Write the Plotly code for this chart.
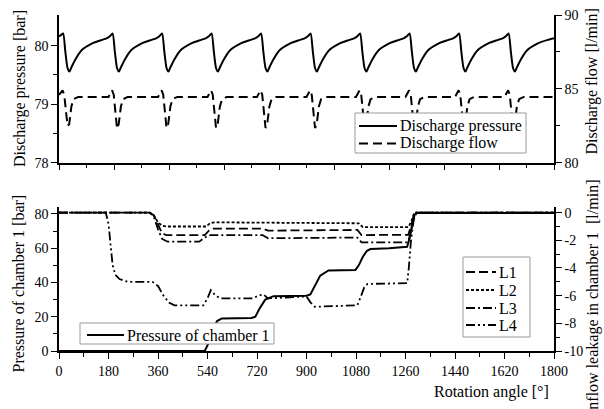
import plotly.graph_objects as go

# ---------------- top panel data ----------------
press_x = [0, 7,
           15, 23, 31, 38, 45, 60, 84, 121, 157, 175, 185,
           195, 203, 211, 218, 225, 240, 264, 301, 337, 355, 365,
           375, 383, 391, 398, 405, 420, 444, 481, 517, 535, 545,
           555, 563, 571, 578, 585, 600, 624, 661, 697, 715, 725,
           735, 743, 751, 758, 765, 780, 804, 841, 877, 895, 905,
           915, 923, 931, 938, 945, 960, 984, 1021, 1057, 1075, 1085,
           1095, 1103, 1111, 1118, 1125, 1140, 1164, 1201, 1237, 1255, 1265,
           1275, 1283, 1291, 1298, 1305, 1320, 1344, 1381, 1417, 1435, 1445,
           1455, 1463, 1471, 1478, 1485, 1500, 1524, 1561, 1597, 1615, 1625,
           1635, 1643, 1651, 1658, 1665, 1680, 1704, 1741, 1777, 1800]
press_y = [80.16, 80.18,
           80.21, 79.90, 79.62, 79.56, 79.63, 79.77, 79.93, 80.04, 80.10, 80.13, 80.16,
           80.21, 79.90, 79.62, 79.56, 79.63, 79.77, 79.93, 80.04, 80.10, 80.13, 80.16,
           80.21, 79.90, 79.62, 79.56, 79.63, 79.77, 79.93, 80.04, 80.10, 80.13, 80.16,
           80.21, 79.90, 79.62, 79.56, 79.63, 79.77, 79.93, 80.04, 80.10, 80.13, 80.16,
           80.21, 79.90, 79.62, 79.56, 79.63, 79.77, 79.93, 80.04, 80.10, 80.13, 80.16,
           80.21, 79.90, 79.62, 79.56, 79.63, 79.77, 79.93, 80.04, 80.10, 80.13, 80.16,
           80.21, 79.90, 79.62, 79.56, 79.63, 79.77, 79.93, 80.04, 80.10, 80.13, 80.16,
           80.21, 79.90, 79.62, 79.56, 79.63, 79.77, 79.93, 80.04, 80.10, 80.13, 80.16,
           80.21, 79.90, 79.62, 79.56, 79.63, 79.77, 79.93, 80.04, 80.10, 80.13, 80.16,
           80.21, 79.90, 79.62, 79.56, 79.63, 79.77, 79.93, 80.04, 80.10, 80.13]

flow_x = [0, 13, 19, 25, 31, 37, 45, 53, 70, 180,
          193, 199, 205, 211, 217, 225, 233, 250, 360,
          373, 379, 385, 391, 397, 405, 413, 430, 540,
          553, 559, 565, 571, 577, 585, 593, 610, 720,
          733, 739, 745, 751, 757, 765, 773, 790, 900,
          913, 919, 925, 931, 937, 945, 953, 970, 1080,
          1093, 1099, 1105, 1111, 1117, 1125, 1133, 1150, 1260,
          1273, 1279, 1285, 1291, 1297, 1305, 1313, 1330, 1440,
          1453, 1459, 1465, 1471, 1477, 1485, 1493, 1510, 1620,
          1633, 1639, 1645, 1651, 1657, 1665, 1673, 1690, 1800]
flow_y = [84.6, 84.9, 84.6, 83.3, 82.5, 82.6, 83.8, 84.3, 84.45, 84.45,
          84.9, 84.6, 83.3, 82.3, 82.6, 83.8, 84.3, 84.45, 84.45,
          84.9, 84.6, 83.3, 82.35, 82.6, 83.8, 84.3, 84.45, 84.45,
          84.9, 84.6, 83.3, 82.35, 82.6, 83.8, 84.3, 84.45, 84.45,
          84.9, 84.6, 83.3, 82.35, 82.6, 83.8, 84.3, 84.45, 84.45,
          84.9, 84.6, 83.3, 82.35, 82.6, 83.8, 84.3, 84.45, 84.45,
          84.9, 84.6, 83.3, 82.35, 82.6, 83.8, 84.3, 84.45, 84.45,
          84.9, 84.6, 83.3, 82.35, 82.6, 83.8, 84.3, 84.45, 84.45,
          84.9, 84.6, 83.3, 82.35, 82.6, 83.8, 84.3, 84.45, 84.45,
          84.9, 84.6, 83.3, 82.35, 82.6, 83.8, 84.3, 84.45, 84.45]

# ---------------- bottom panel data ----------------
pc_x = [0, 530, 545, 560, 575, 592, 700, 714, 730, 750, 780, 900, 914, 930, 950, 980,
        1078, 1090, 1105, 1120, 1133, 1200, 1266, 1275, 1283, 1290, 1300, 1800]
pc_y = [0, 0, 5, 13, 17.5, 19, 19.3, 20, 25, 30, 32, 32.3, 33, 38, 44, 47,
        47.3, 50, 55, 58.5, 59.5, 60, 60.8, 66, 74, 79, 80.5, 80.5]

l1_x = [0, 330, 345, 360, 375, 390, 530, 545, 560, 740, 760, 1085, 1100, 1270, 1280, 1290, 1300, 1800]
l1_y = [0, 0, -0.2, -0.9, -1.5, -1.62, -1.62, -1.3, -1.15, -1.15, -1.3, -1.25, -1.62, -1.6, -1.0, -0.3, 0, 0]

l2_x = [0, 330, 345, 360, 375, 390, 535, 550, 565, 1090, 1105, 1270, 1282, 1292, 1800]
l2_y = [0, 0, -0.2, -0.7, -0.95, -1.0, -1.0, -0.75, -0.7, -0.77, -1.05, -1.05, -0.6, 0, 0]

l3_x = [0, 330, 345, 360, 375, 395, 510, 530, 550, 740, 760, 1085, 1100, 1270, 1282, 1295, 1800]
l3_y = [0, 0, -0.3, -1.2, -1.9, -2.1, -2.1, -1.8, -1.62, -1.62, -1.85, -1.8, -2.15, -2.15, -1.2, 0, 0]

l4_x = [0, 170, 180, 188, 195, 205, 220, 250, 340, 360, 380, 400, 420, 440, 525, 540, 552,
        565, 585, 705, 725, 743, 760, 900, 915, 930, 1085, 1095, 1110, 1122, 1266, 1272,
        1280, 1290, 1300, 1800]
l4_y = [0, 0, -0.8, -2.5, -3.8, -4.5, -4.8, -5.0, -5.0, -5.3, -6.0, -6.5, -6.7, -6.7, -6.7, -6.2,
        -5.6, -5.9, -6.2, -6.2, -6.0, -5.9, -6.2, -6.05, -6.5, -6.8, -6.7, -6.2, -5.4, -5.15,
        -5.1, -4.0, -2.0, -0.5, 0, 0]

x_major_ticks = [0, 180, 360, 540, 720, 900, 1080, 1260, 1440, 1620, 1800]

FONT = "Liberation Serif"
W, H = 604, 409


def px(x):
    return x / W


def py(y):
    return 1 - y / H


DASH_FLOW = "9px,5px"
DASH_L1 = "9px,4px"
DASH_L2 = "3px,2px"
DASH_L3 = "9px,3px,2px,3px"
DASH_L4 = "9px,3px,2px,3px,2px,3px"

fig = go.Figure()

fig.add_trace(go.Scatter(x=press_x, y=press_y, mode="lines", name="Discharge pressure",
                         line=dict(color="black", width=2, shape="spline", smoothing=0.6),
                         xaxis="x", yaxis="y"))
fig.add_trace(go.Scatter(x=flow_x, y=flow_y, mode="lines", name="Discharge flow",
                         line=dict(color="black", width=2, dash=DASH_FLOW),
                         xaxis="x", yaxis="y2"))
fig.add_trace(go.Scatter(x=l1_x, y=l1_y, mode="lines", name="L1",
                         line=dict(color="black", width=1.8, dash=DASH_L1),
                         xaxis="x2", yaxis="y4"))
fig.add_trace(go.Scatter(x=l2_x, y=l2_y, mode="lines", name="L2",
                         line=dict(color="black", width=1.8, dash=DASH_L2),
                         xaxis="x2", yaxis="y4"))
fig.add_trace(go.Scatter(x=l3_x, y=l3_y, mode="lines", name="L3",
                         line=dict(color="black", width=1.8, dash=DASH_L3),
                         xaxis="x2", yaxis="y4"))
fig.add_trace(go.Scatter(x=l4_x, y=l4_y, mode="lines", name="L4",
                         line=dict(color="black", width=1.8, dash=DASH_L4),
                         xaxis="x2", yaxis="y4"))
fig.add_trace(go.Scatter(x=pc_x, y=pc_y, mode="lines", name="Pressure of chamber 1",
                         line=dict(color="black", width=2),
                         xaxis="x2", yaxis="y3"))

xdom = [px(59), px(554)]
top_dom = [py(162.7), py(15)]
bot_dom = [py(351), py(206.7)]

axis_common = dict(showline=True, linecolor="black", linewidth=1.5, ticks="outside",
                   tickcolor="black", tickwidth=1.2, ticklen=6, showgrid=False, zeroline=False,
                   automargin=False,
                   tickfont=dict(family=FONT, size=14, color="black"))
minor_common = dict(ticklen=4, ticks="outside", tickcolor="black", tickwidth=1.2)

fig.update_layout(
    width=W, height=H, margin=dict(l=0, r=0, t=0, b=0, autoexpand=False),
    paper_bgcolor="white", plot_bgcolor="white", showlegend=False,
    font=dict(family=FONT, size=15, color="black"),
    xaxis=dict(domain=xdom, range=[0, 1800], anchor="y", tickmode="array",
               tickvals=[0, 200, 400, 600, 800, 1000, 1200, 1400, 1600, 1800],
               showticklabels=False,
               minor=dict(tickvals=[100, 300, 500, 700, 900, 1100, 1300, 1500, 1700], **minor_common),
               **axis_common),
    yaxis=dict(domain=top_dom, range=[78, 80.525], anchor="x", tickvals=[78, 79, 80],
               minor=dict(tickvals=[78.5, 79.5], **minor_common),
               **axis_common),
    yaxis2=dict(overlaying="y", side="right", range=[80, 90], anchor="x",
                tickvals=[80, 85, 90],
                minor=dict(tickvals=[82.5, 87.5], **minor_common),
                **axis_common),
    xaxis2=dict(domain=xdom, range=[0, 1800], anchor="y3", tickvals=x_major_ticks,
                minor=dict(tickvals=[90, 270, 450, 630, 810, 990, 1170, 1350, 1530, 1710], **minor_common),
                **axis_common),
    yaxis3=dict(domain=bot_dom, range=[0, 84.2], anchor="x2", tickvals=[0, 20, 40, 60, 80],
                minor=dict(tickvals=[10, 30, 50, 70], **minor_common),
                **axis_common),
    yaxis4=dict(overlaying="y3", side="right", range=[-10, 0.43], anchor="x2",
                tickvals=[0, -2, -4, -6, -8, -10], ticktext=["0", "-2", "-4", "-6", "-8", "-10"],
                minor=dict(tickvals=[-1, -3, -5, -7, -9], **minor_common),
                **axis_common),
)

ann = dict(xref="paper", yref="paper", showarrow=False, xanchor="center", yanchor="middle",
           font=dict(family=FONT, size=16, color="black"))
fig.add_annotation(text="Discharge pressure [bar]", x=px(20), y=py(89), textangle=-90, **ann)
fig.add_annotation(text="Pressure of chamber 1 [bar]", x=px(18), y=py(283.5), textangle=-90, **ann)
fig.add_annotation(text="Discharge flow [l/min]", x=px(591), y=py(81.5), textangle=-90, **ann)
fig.add_annotation(text="Inflow leakage in chamber 1\u00a0 [l/min]", x=px(593), y=py(298),
                   textangle=-90, **ann)
fig.add_annotation(text="Rotation angle [°]", x=px(491.5), y=py(392), **ann)


# ---------------- legends (boxes, samples, labels) ----------------
def legend_box(x0, y0, x1, y1):
    fig.add_shape(type="rect", xref="paper", yref="paper",
                  x0=px(x0), x1=px(x1), y0=py(y0), y1=py(y1),
                  line=dict(color="#9a9a9a", width=1), fillcolor="white", layer="above")


def legend_item(xs0, xs1, yc, dash, label, width=2):
    fig.add_shape(type="line", xref="paper", yref="paper",
                  x0=px(xs0), x1=px(xs1), y0=py(yc), y1=py(yc),
                  line=dict(color="black", width=width, dash=dash), layer="above")
    fig.add_annotation(text=label, x=px(xs1 + 1), y=py(yc), xref="paper", yref="paper",
                       showarrow=False, xanchor="left", yanchor="middle",
                       font=dict(family=FONT, size=16, color="black"))


legend_box(355, 113, 526, 153)
legend_item(359, 397, 126, "solid", "Discharge pressure")
legend_item(359, 397, 143.5, DASH_FLOW, "Discharge flow")

legend_box(463, 257, 530, 337)
legend_item(466, 496, 272, DASH_L1, "L1", 1.8)
legend_item(466, 496, 290, DASH_L2, "L2", 1.8)
legend_item(466, 496, 308, DASH_L3, "L3", 1.8)
legend_item(466, 496, 325, DASH_L4, "L4", 1.8)

legend_box(80, 323, 274, 344)
legend_item(87, 124, 335, "solid", "Pressure of chamber 1")

fig.write_html("out.html")
